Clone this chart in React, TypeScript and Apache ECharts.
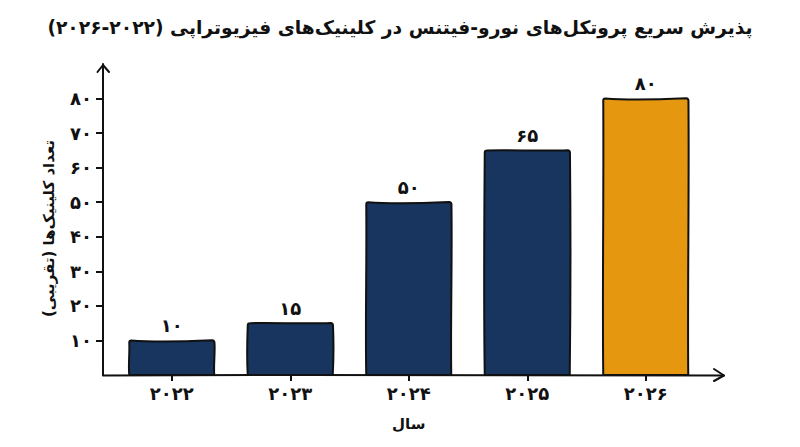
import React, { useEffect, useRef } from "react";
import * as echarts from "echarts";

const chartTitle = "\u200Fپذیرش سریع پروتکل‌های نورو-فیتنس در کلینیک‌های فیزیوتراپی (۲۰۲۲-۲۰۲۶)\u200F";
const xAxisTitle = "سال";
const yAxisTitle = "\u200Fتعداد کلینیک‌ها (تقریبی)\u200F";
const categories = ["۲۰۲۲", "۲۰۲۳", "۲۰۲۴", "۲۰۲۵", "۲۰۲۶"];
const values = [10, 15, 50, 65, 80];
const yTicks = [10, 20, 30, 40, 50, 60, 70, 80];
const barColors = ["#17355F", "#17355F", "#17355F", "#17355F", "#E4970F"];

const INK = "#111111";
const FONT = '"DejaVu Sans", sans-serif';
const persian = (n: number) => String(n).replace(/\d/g, (d) => "۰۱۲۳۴۵۶۷۸۹"[Number(d)]);

function renderBar(params: any, api: any) {
  const i = api.value(0);
  const v = api.value(1);
  const top = api.coord([i, v]);
  const base = api.coord([i, 0]);
  const w = 85;
  const l = top[0] - w / 2;
  const r = top[0] + w / 2;
  const t = top[1];
  const b = base[1];
  const k = i % 2 === 0 ? 1 : -1;
  const d =
    `M${l + 2} ${t} C${l + w * 0.3} ${t + 1.2 * k + 0.6} ${l + w * 0.7} ${t + 0.8} ${r - 2} ${t - 0.2} ` +
    `Q${r} ${t} ${r + 0.2} ${t + 2} C${r + 1} ${t + (b - t) * 0.35} ${r - 0.8 * k} ${t + (b - t) * 0.7} ${r} ${b} ` +
    `L${l} ${b} C${l - 1} ${t + (b - t) * 0.7} ${l + 0.6 * k} ${t + (b - t) * 0.35} ${l} ${t + 2} Q${l} ${t} ${l + 2} ${t} Z`;
  return {
    type: "group",
    children: [
      {
        type: "path",
        shape: { pathData: d },
        style: { fill: barColors[i], stroke: INK, lineWidth: 2, lineJoin: "round" },
      },
      {
        type: "text",
        style: {
          text: persian(v),
          x: top[0],
          y: t - 6,
          align: "center",
          verticalAlign: "bottom",
          fill: INK,
          font: `bold 18px ${FONT}`,
        },
      },
    ],
  };
}

const inkLine = { stroke: INK, lineWidth: 2, fill: "none", lineCap: "round", lineJoin: "round" };

export default function App() {
  const ref = useRef<HTMLDivElement>(null);
  useEffect(() => {
    const chart = echarts.init(ref.current!, null, { renderer: "svg" });
    chart.setOption({
      animation: false,
      backgroundColor: "#ffffff",
      title: {
        text: chartTitle,
        left: "center",
        top: 13,
        textStyle: { fontFamily: FONT, fontSize: 18.7, fontWeight: "bold", color: INK },
      },
      grid: { left: 112.5, top: 64, width: 592.5, height: 311 },
      xAxis: {
        type: "category",
        data: categories,
        name: xAxisTitle,
        nameLocation: "middle",
        nameGap: 41,
        nameTextStyle: { fontFamily: FONT, fontSize: 15, fontWeight: "bold", color: INK },
        axisLine: { show: false },
        axisTick: { show: true, alignWithLabel: true, length: 6, lineStyle: { color: INK, width: 2 } },
        axisLabel: { fontFamily: FONT, fontSize: 18, fontWeight: "bold", color: INK, margin: 9 },
        splitLine: { show: false },
      },
      yAxis: {
        type: "value",
        min: 0,
        max: 90,
        interval: 10,
        offset: 9.5,
        name: yAxisTitle,
        nameLocation: "middle",
        nameGap: 47,
        nameRotate: 90,
        nameTextStyle: { fontFamily: FONT, fontSize: 15, fontWeight: "bold", color: INK, padding: [0, 18, 0, 0] },
        axisLine: { show: true, lineStyle: { color: INK, width: 2 } },
        axisTick: { show: true, length: 7, customValues: yTicks, lineStyle: { color: INK, width: 2 } },
        axisLabel: { customValues: yTicks, formatter: (v: number) => persian(v), fontFamily: FONT, fontSize: 18, fontWeight: "bold", color: INK, margin: 11 },
        splitLine: { show: false },
      },
      series: [
        {
          type: "custom",
          renderItem: renderBar,
          encode: { x: 0, y: 1 },
          data: values.map((v, i) => [i, v]),
          clip: false,
        },
      ],
      graphic: [
        { type: "polyline", shape: { points: [[103, 375.5], [300, 375], [724, 375.5]] }, style: inkLine, z: 10 },
        { type: "polyline", shape: { points: [[714, 369], [724, 375.5], [714, 381]] }, style: inkLine, z: 10 },
        { type: "polyline", shape: { points: [[97.5, 72], [103, 65], [109, 72]] }, style: inkLine, z: 10 },
      ],
    });
    return () => chart.dispose();
  }, []);
  return <div ref={ref} style={{ position: "fixed", left: 0, top: 0, width: 800, height: 447 }} />;
}
